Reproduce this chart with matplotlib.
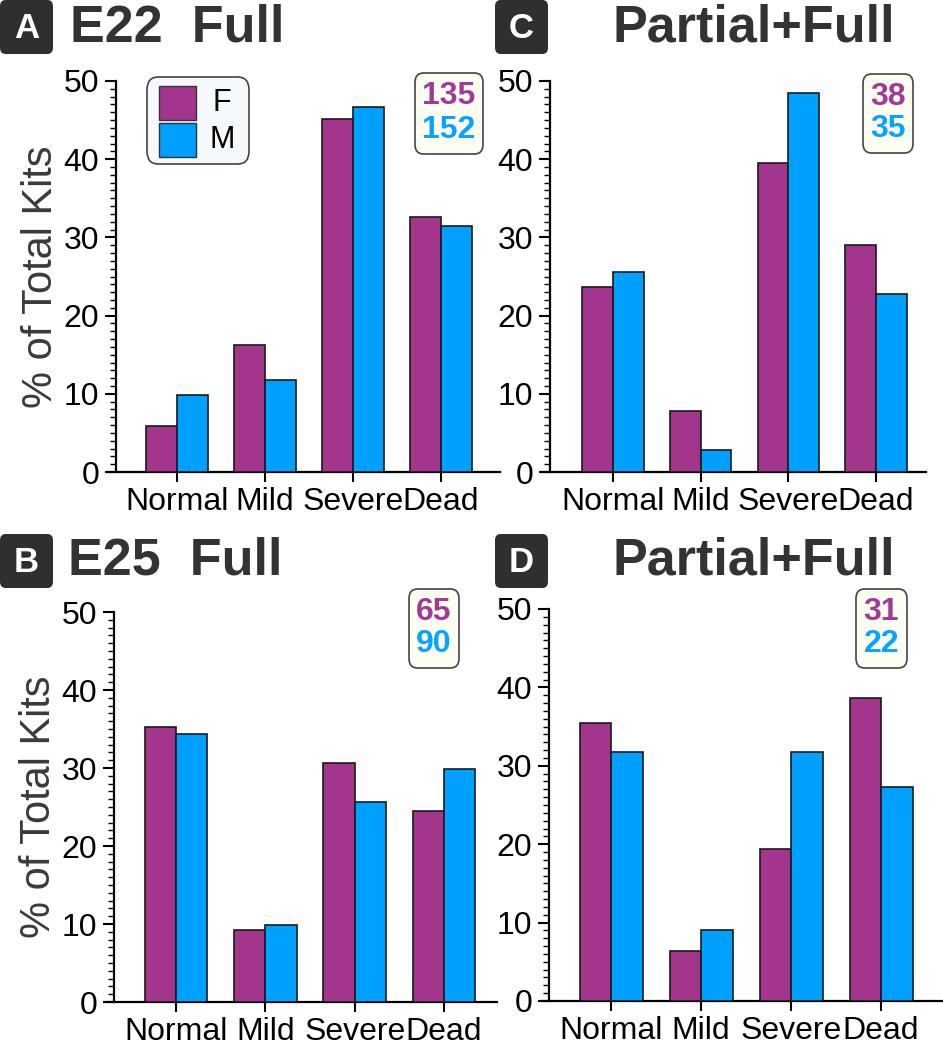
import numpy as np
import matplotlib
matplotlib.use("Agg")
import matplotlib.pyplot as plt
from matplotlib.patches import FancyBboxPatch, Rectangle

plt.rcParams['font.family'] = ['Liberation Sans', 'DejaVu Sans']

# data (% of total kits)
categories = ["Normal", "Mild", "Severe", "Dead"]

e22_full_f = [5.9, 16.2, 45.2, 32.6]
e22_full_m = [9.9, 11.8, 46.7, 31.5]
e22_pf_f = [23.6, 7.8, 39.5, 29.0]
e22_pf_m = [25.6, 2.8, 48.5, 22.7]
e25_full_f = [35.3, 9.2, 30.7, 24.5]
e25_full_m = [34.4, 9.9, 25.6, 29.9]
e25_pf_f = [35.5, 6.4, 19.4, 38.6]
e25_pf_m = [31.8, 9.1, 31.8, 27.3]

n_counts = {"A": ("135", "152"), "C": ("38", "35"),
            "B": ("65", "90"), "D": ("31", "22")}
titles = {"A": "E22  Full", "C": "Partial+Full",
          "B": "E25  Full", "D": "Partial+Full"}

F_COL = "#a3358c"
M_COL = "#00a0ff"
F_TXT = "#a23a95"
M_TXT = "#06a4ff"
DARK = "#333333"

W, H = 943, 1050
fig = plt.figure(figsize=(W / 100, H / 100), dpi=100)


def px_box(x0, y0, x1, y1):
    # pixel (top-left origin) -> figure fraction rect
    return [x0 / W, 1 - y1 / H, (x1 - x0) / W, (y1 - y0) / H]


def panel(key, fvals, mvals, xl, xr, yx, y0, y50, c0, c3, nbox, box_xy, title_x, title_y):
    ax = fig.add_axes(px_box(xl, y50, xr, y0))
    unit = (c3 - c0) / 3
    x = np.arange(len(categories))
    w = 0.35
    ax.bar(x - w / 2, fvals, w, color=F_COL, edgecolor="#1a1a1a", linewidth=1.2, zorder=3)
    ax.bar(x + w / 2, mvals, w, color=M_COL, edgecolor="#1a1a1a", linewidth=1.2, zorder=3)
    ax.set_xlim((xl - c0) / unit, (xr - c0) / unit)
    ax.set_ylim(0, 50)
    ax.set_xticks(x)
    ax.set_xticklabels(categories, fontsize=23)
    ax.set_yticks(np.arange(0, 51, 10))
    ax.set_yticks(np.arange(0, 51, 1), minor=True)
    ax.tick_params(axis="y", labelsize=23, length=8, width=1.5, pad=4)
    ax.tick_params(axis="y", which="minor", length=4, width=1.0)
    ax.tick_params(axis="x", length=7, width=1.5, pad=4)
    for s in ("top", "right"):
        ax.spines[s].set_visible(False)
    ax.spines["left"].set_position(("axes", (yx - xl) / (xr - xl)))
    ax.spines["left"].set_linewidth(1.6)
    ax.spines["bottom"].set_linewidth(1.6)
    if key in ("A", "B"):
        ax.set_ylabel("% of Total Kits", fontsize=30, color="#3a3a3a", labelpad=2)

    # n-count box
    bx0, by0, bx1, by1 = nbox
    box = FancyBboxPatch((bx0 / W, 1 - by1 / H), (bx1 - bx0) / W, (by1 - by0) / H,
                         boxstyle="round,pad=0,rounding_size=0.009",
                         transform=fig.transFigure, facecolor="#fdfdf2",
                         edgecolor="#444444", linewidth=1.2)
    fig.patches.append(box)
    cx = (bx0 + bx1) / 2 / W
    fig.text(cx, 1 - (by0 + 0.29 * (by1 - by0)) / H, n_counts[key][0], color=F_TXT,
             fontsize=23, fontweight="bold", ha="center", va="center")
    fig.text(cx, 1 - (by0 + 0.70 * (by1 - by0)) / H, n_counts[key][1], color=M_TXT,
             fontsize=23, fontweight="bold", ha="center", va="center")

    # panel letter
    lx0, ly0 = box_xy
    lbox = FancyBboxPatch((lx0 / W, 1 - (ly0 + 54) / H), 53 / W, 54 / H,
                          boxstyle="round,pad=0,rounding_size=0.006",
                          transform=fig.transFigure, facecolor="#2f2f2f",
                          edgecolor="none")
    fig.patches.append(lbox)
    fig.text((lx0 + 26.5) / W, 1 - (ly0 + 28) / H, key, color="white",
             fontsize=25, fontweight="bold", ha="center", va="center")
    fig.text(title_x / W, 1 - title_y / H, titles[key], color=DARK,
             fontsize=37.5, fontweight="bold", ha="left", va="center")
    return ax


axA = panel("A", e22_full_f, e22_full_m, 108, 500, 116, 472, 81, 177, 441,
            (415, 73, 483, 154), (0, 0), 70, 28)
axC = panel("C", e22_pf_f, e22_pf_m, 543, 926, 550, 472, 81, 613, 876,
            (863, 74, 913, 153), (495, 0), 613, 28)
axB = panel("B", e25_full_f, e25_full_m, 107, 497, 114, 1002, 612, 176, 444,
            (409, 589, 459, 668), (0, 534), 68, 561)
axD = panel("D", e25_pf_f, e25_pf_m, 542, 943, 549, 1001, 609, 611, 881,
            (856, 589, 907, 668), (495, 534), 613, 561)

# legend in panel A
leg = FancyBboxPatch((147 / W, 1 - 164 / H), 102 / W, 87 / H,
                     boxstyle="round,pad=0,rounding_size=0.012",
                     transform=fig.transFigure, facecolor="#f6f9fc",
                     edgecolor="#444444", linewidth=1.2)
fig.patches.append(leg)
for i, (lab, col) in enumerate([("F", F_COL), ("M", M_COL)]):
    top = 86 + i * 37
    fig.patches.append(Rectangle((159 / W, 1 - (top + 34) / H), 37 / W, 34 / H,
                                 transform=fig.transFigure, facecolor=col,
                                 edgecolor="#333333", linewidth=1.0))
    fig.text(222 / W, 1 - (top + 17) / H, lab, fontsize=22, ha="center", va="center")

fig.savefig("out.png", dpi=100)
